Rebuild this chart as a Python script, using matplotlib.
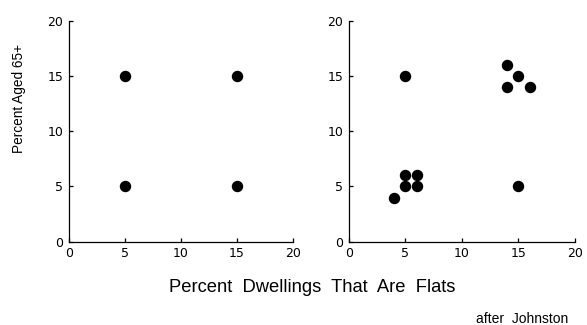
import matplotlib.pyplot as plt

plt.rcParams['font.family'] = ['Liberation Sans', 'DejaVu Sans']

# left panel: four corner points
left_x = [5, 15, 5, 15]
left_y = [15, 15, 5, 5]

# right panel: clustered points
right_x = [5, 14, 15, 14, 16, 5, 6, 5, 6, 4, 15]
right_y = [15, 16, 15, 14, 14, 6, 6, 5, 5, 4, 5]

ticks = [0, 5, 10, 15, 20]

fig = plt.figure(figsize=(5.87, 3.25), dpi=100)
ax1 = fig.add_axes([0.1175, 0.2563, 0.3811, 0.68])
ax2 = fig.add_axes([0.5945, 0.2563, 0.385, 0.68])

for ax, xs, ys in [(ax1, left_x, left_y), (ax2, right_x, right_y)]:
    ax.scatter(xs, ys, s=52, color='black', zorder=3)
    ax.set_xlim(0, 20)
    ax.set_ylim(0, 20)
    ax.set_xticks(ticks)
    ax.set_yticks(ticks)
    ax.spines['top'].set_visible(False)
    ax.spines['right'].set_visible(False)
    for s in ['left', 'bottom']:
        ax.spines[s].set_linewidth(0.9)
    ax.tick_params(direction='in', length=3, width=0.9, labelsize=9, pad=4)
    for lbl in ax.get_xticklabels() + ax.get_yticklabels():
        lbl.set_family('DejaVu Sans')

fig.text(0.033, 0.698, 'Percent Aged 65+', rotation=90, fontsize=9.8,
         ha='center', va='center')
fig.text(0.531, 0.114, 'Percent  Dwellings  That  Are  Flats', fontsize=13.2,
         ha='center', va='center')
fig.text(0.89, 0.018, 'after  Johnston', fontsize=10, ha='center', va='center')

fig.savefig('out.png', dpi=100)
